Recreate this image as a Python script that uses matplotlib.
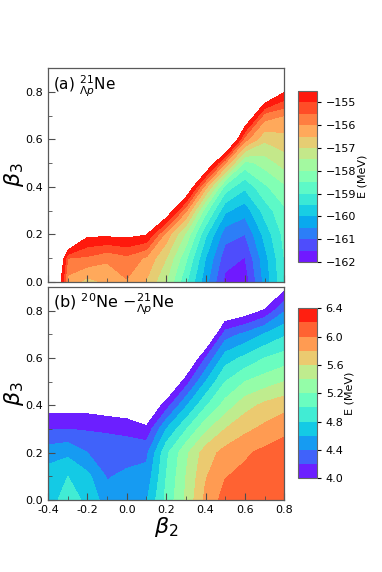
import numpy as np
import matplotlib.pyplot as plt
from matplotlib.ticker import MultipleLocator

# deformation grid
beta2 = [-0.4, -0.3, -0.2, -0.1, 0.0, 0.1, 0.2, 0.3, 0.4, 0.5, 0.6, 0.7, 0.8]
beta3 = [0.0, 0.1, 0.2, 0.3, 0.4, 0.5, 0.6, 0.7, 0.8, 0.9]

# (a) total energy of 21Ne (Lambda p), rows = beta3, cols = beta2
energy_a = [
    [-151.3, -156.2, -156.7, -156.4, -156.05, -156.55, -157.5, -158.9, -160.3, -161.65, -161.8, -160.35, -159.1],
    [-150.5, -155.5, -155.6, -155.9, -155.65, -156.1, -157.0, -158.4, -160.0, -161.3, -161.52, -160.2, -159.0],
    [-152.0, -152.5, -154.35, -154.35, -154.3, -154.45, -156.2, -157.6, -159.4, -160.8, -161.0, -159.85, -158.85],
    [-152.0, -152.0, -152.0, -152.0, -152.0, -152.0, -153.75, -155.9, -158.3, -159.9, -160.3, -159.3, -158.6],
    [-152.0, -152.0, -152.0, -152.0, -152.0, -152.0, -152.0, -153.4, -156.3, -158.7, -159.4, -158.6, -158.1],
    [-152.0, -152.0, -152.0, -152.0, -152.0, -152.0, -152.0, -152.0, -153.3, -156.0, -158.2, -157.8, -157.3],
    [-152.0, -152.0, -152.0, -152.0, -152.0, -152.0, -152.0, -152.0, -152.0, -152.25, -155.8, -156.9, -156.7],
    [-152.0, -152.0, -152.0, -152.0, -152.0, -152.0, -152.0, -152.0, -152.0, -152.0, -153.35, -155.75, -156.0],
    [-152.0, -152.0, -152.0, -152.0, -152.0, -152.0, -152.0, -152.0, -152.0, -152.0, -152.0, -153.3, -154.45],
    [-152.0, -152.0, -152.0, -152.0, -152.0, -152.0, -152.0, -152.0, -152.0, -152.0, -152.0, -152.0, -153.0],
]

# (b) energy difference 20Ne - 21Ne (Lambda p)
diff_b = [
    [4.7, 4.9, 4.75, 4.5, 4.5, 4.58, 5.05, 5.43, 5.85, 6.08, 6.1, 6.13, 6.16],
    [4.7, 4.8, 4.65, 4.38, 4.45, 4.47, 5.0, 5.4, 5.78, 5.99, 6.05, 6.1, 6.13],
    [4.5, 4.55, 4.4, 4.32, 4.3, 4.35, 4.95, 5.35, 5.7, 5.87, 5.97, 6.05, 6.1],
    [4.2, 4.2, 4.18, 4.17, 4.15, 4.05, 4.6, 4.98, 5.35, 5.6, 5.75, 5.85, 5.95],
    [3.9, 3.9, 3.9, 3.85, 3.8, 3.7, 4.1, 4.57, 4.97, 5.28, 5.52, 5.65, 5.73],
    [3.5, 3.5, 3.5, 3.5, 3.5, 3.5, 3.6, 4.1, 4.6, 5.0, 5.2, 5.3, 5.4],
    [3.5, 3.5, 3.5, 3.5, 3.5, 3.5, 3.5, 3.6, 4.2, 4.7, 4.85, 5.0, 5.09],
    [3.5, 3.5, 3.5, 3.5, 3.5, 3.5, 3.5, 3.5, 3.6, 4.3, 4.45, 4.62, 4.77],
    [3.5, 3.5, 3.5, 3.5, 3.5, 3.5, 3.5, 3.5, 3.5, 3.75, 3.85, 4.03, 4.38],
    [3.5, 3.5, 3.5, 3.5, 3.5, 3.5, 3.5, 3.5, 3.5, 3.5, 3.5, 3.5, 3.92],
]

levels_a = np.arange(-162.0, -154.4, 0.5)
levels_b = np.round(np.arange(4.0, 6.41, 0.2), 1)
cbar_ticks_a = [-162, -161, -160, -159, -158, -157, -156, -155]
cbar_ticks_b = [4.0, 4.4, 4.8, 5.2, 5.6, 6.0, 6.4]
xtick_vals = [-0.4, -0.2, 0.0, 0.2, 0.4, 0.6, 0.8]
xtick_labels = ['-0.4', '-0.2', '0.0', '0.2', '0.4', '0.6', '0.8']

fig = plt.figure(figsize=(3.82, 5.72), dpi=100)
ax_a = fig.add_axes([0.126, 0.507, 0.618, 0.374])
ax_b = fig.add_axes([0.126, 0.126, 0.618, 0.372])
cax_a = fig.add_axes([0.781, 0.542, 0.048, 0.299])
cax_b = fig.add_axes([0.781, 0.164, 0.048, 0.297])

X, Y = np.meshgrid(beta2, beta3)

cf_a = ax_a.contourf(X, Y, np.array(energy_a), levels=levels_a, cmap='rainbow')
cf_b = ax_b.contourf(X, Y, np.array(diff_b), levels=levels_b, cmap='rainbow')

for ax in (ax_a, ax_b):
    ax.set_xlim(-0.4, 0.8)
    ax.set_ylim(0, 0.9)
    ax.set_xticks(xtick_vals)
    ax.xaxis.set_minor_locator(MultipleLocator(0.1))
    ax.set_yticks([0.0, 0.2, 0.4, 0.6, 0.8])
    ax.yaxis.set_minor_locator(MultipleLocator(0.1))
    ax.tick_params(which='both', direction='in', labelsize=8, color='0.3')
    ax.tick_params(which='major', length=5)
    ax.tick_params(which='minor', length=3)
    for s in ax.spines.values():
        s.set_color('0.35')
        s.set_linewidth(0.9)
    ax.set_ylabel(r'$\beta_3$', fontsize=16, labelpad=0)

ax_a.set_xticklabels([])
ax_b.set_xticklabels(xtick_labels)
ax_b.set_xlabel(r'$\beta_2$', fontsize=16, labelpad=0)

ax_a.text(0.02, 0.912, r'(a) $^{21}_{\Lambda p}$Ne', transform=ax_a.transAxes,
          fontsize=11, va='center')
ax_b.text(0.02, 0.917, r'(b) $^{20}$Ne $-^{21}_{\Lambda p}$Ne', transform=ax_b.transAxes,
          fontsize=11.5, va='center')

cb_a = fig.colorbar(cf_a, cax=cax_a, ticks=cbar_ticks_a)
cb_b = fig.colorbar(cf_b, cax=cax_b, ticks=cbar_ticks_b)
cb_b.ax.set_yticklabels(['%.1f' % t for t in cbar_ticks_b])
for cb in (cb_a, cb_b):
    cb.ax.tick_params(labelsize=8, length=3)
    cb.set_label('E (MeV)', fontsize=8, labelpad=1)
    cb.outline.set_edgecolor('0.4')

fig.savefig('out.png', dpi=100)
